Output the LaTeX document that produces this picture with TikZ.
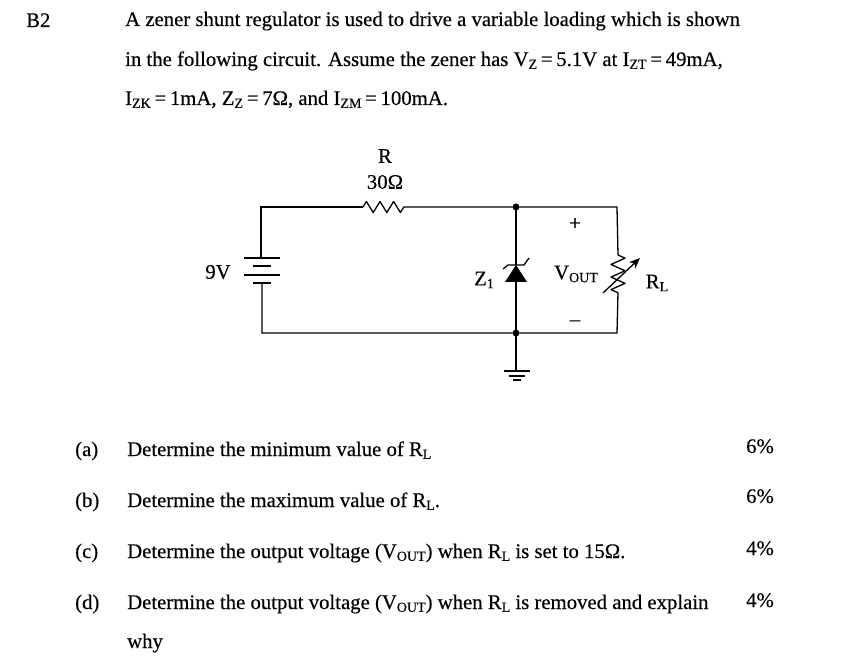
\documentclass[tikz,border=0pt]{standalone}
\usepackage{fontspec}
\setmainfont[FakeBold=0.35]{Liberation Serif}
\usetikzlibrary{decorations.pathmorphing, arrows.meta}
\newcommand{\lowtxt}[1]{\raisebox{-.3ex}{\fontsize{14}{14}\selectfont #1}}
\newcommand{\tighteq}{\hspace{.18em}=\hspace{.18em}}

\begin{document}
\begin{tikzpicture}[
          x = 1pt, y = -1pt,
          font = \fontsize{20.75}{24}\selectfont,
          wire/.style = {draw, line width = 1.3pt},
          dot/.style = {draw, shape = circle, fill = black, minimum size = 6.5pt, inner sep = 0},
          para/.style = {anchor = base west, inner sep = 0},
          tag/.style = {inner sep = 0}
        ]
          \useasboundingbox (0,0) rectangle (847,663);
          % place text
          \node (head) [para] at (26,27) {B2};
          \node (line1) [para] at (125,26) {A zener shunt regulator is used to drive a variable loading which is shown};
          \node (line2) [para] at (125,66) {in the following circuit. Assume the zener has V\lowtxt{Z}\tighteq 5.1V at I\lowtxt{ZT}\tighteq 49mA,};
          \node (line3) [para] at (125,105) {I\lowtxt{ZK}\tighteq 1mA, Z\lowtxt{Z}\tighteq 7Ω, and I\lowtxt{ZM}\tighteq 100mA.};
          \foreach \y/\id/\txt/\pct/\py in {
              456/a/{Determine the minimum value of R\lowtxt{L}}/6/453,
              507/b/{Determine the maximum value of R\lowtxt{L}.}/6/503,
              558/c/{Determine the output voltage (V\lowtxt{OUT}) when R\lowtxt{L} is set to 15Ω.}/4/555,
              609/d/{Determine the output voltage (V\lowtxt{OUT}) when R\lowtxt{L} is removed and explain}/4/607}
            { \node (lab\id) [para] at (75,\y) {(\id)};
              \node (q\id) [para] at (127,\y) {\txt};
              \node (pct\id) [para] at (746,\py) {\pct\%}; } ;
          \node (why) [para] at (127,648) {why};
          % place circuit labels
          \node (rname) [tag] at (385,156) {R};
          \node (rval) [tag] at (385,182) {30Ω};
          \node (vs) [tag] at (218,272) {9V};
          \node (zname) [tag] at (484,280) {Z\lowtxt{1}};
          \node (vout) [tag] at (576,274) {V\lowtxt{OUT}};
          \node (plus) [tag] at (575,224) {+};
          \node (minus) [tag] at (575,323) {–};
          \node (rl) [tag] at (657,283) {R\lowtxt{L}};
          % place circuit points
          \coordinate (tl) at (261,207);
          \coordinate (bl) at (262,333);
          \coordinate (tr) at (617,207);
          \coordinate (br) at (617,333);
          \coordinate (rin) at (363,207);
          \coordinate (rout) at (404,207);
          \coordinate (battop) at (261,258);
          \coordinate (batbot) at (262,283);
          \coordinate (ltop) at (618,255);
          \coordinate (lbot) at (618,293);
          \coordinate (ztop) at (516,265);
          \coordinate (zbot) at (516,282);
          \coordinate (gnd) at (516,371);
          \node (ntop) [dot] at (516,207) {};
          \node (nbot) [dot] at (516,333) {};
          % place wires
          \draw [wire] (battop) -- (tl) -- (rin);
          \draw [wire, line join = round, decorate, decoration = {zigzag, amplitude = 5.5pt, segment length = 13.6pt}] (rin) -- (rout);
          \draw [wire] (rout) -- (ntop) -- (tr) -- (ltop);
          \draw [wire, line join = round, decorate, decoration = {zigzag, amplitude = 7pt, segment length = 12.6pt}] (ltop) -- (lbot);
          \draw [wire] (lbot) -- (br) -- (nbot) -- (bl) -- (batbot);
          \draw [wire] (ntop) -- (ztop);
          \draw [wire] (zbot) -- (nbot) -- (gnd);
          % battery plates
          \foreach \y/\w in {258/18, 266/9, 275/18, 283/9}
            { \draw [wire] (262-\w,\y) -- (262+\w,\y); } ;
          % ground plates
          \foreach \y/\w in {371/13, 376/8, 380/4}
            { \draw [wire] (516.5-\w,\y) -- (516.5+\w,\y); } ;
          % zener
          \fill (ztop) -- (505,282) -- (527,282) -- cycle;
          \draw [wire] (503,269) -- (508,265) -- (524,265) -- (529,258);
          % variable load arrow
          \draw [line width = 1.3pt, -{Stealth[length = 11pt, width = 9pt]}] (603,293) -- (640,258);
        \end{tikzpicture}
\end{document}
